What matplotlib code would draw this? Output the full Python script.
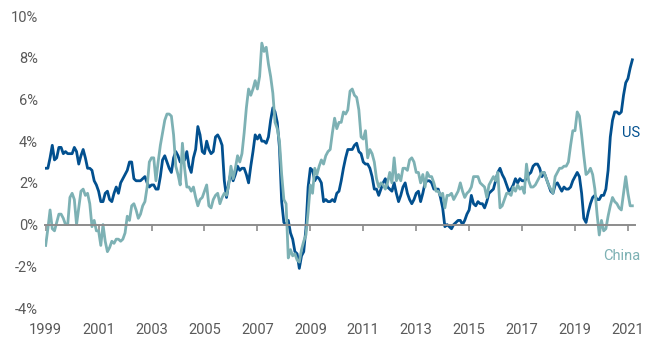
import numpy as np
import matplotlib
matplotlib.use("Agg")
from matplotlib import pyplot as plt

plt.rcParams['font.family'] = ['Roboto', 'DejaVu Sans']

# monthly YoY inflation, Dec 1999 .. Feb 2022
us = [2.7,
	2.7, 3.2, 3.8, 3.1, 3.2, 3.7, 3.7, 3.4, 3.5, 3.4, 3.4, 3.4,
	3.7, 3.5, 2.9, 3.3, 3.6, 3.2, 2.7, 2.7, 2.6, 2.1, 1.9, 1.6,
	1.1, 1.1, 1.5, 1.6, 1.2, 1.1, 1.5, 1.8, 1.5, 2.0, 2.2, 2.4,
	2.6, 3.0, 3.0, 2.2, 2.1, 2.1, 2.1, 2.2, 2.3, 2.0, 1.8, 1.9,
	1.9, 1.7, 1.7, 2.3, 3.1, 3.3, 3.0, 2.7, 2.5, 3.2, 3.5, 3.3,
	3.0, 3.0, 3.1, 3.5, 2.8, 2.5, 3.2, 3.6, 4.7, 4.3, 3.5, 3.4,
	4.0, 3.6, 3.4, 3.5, 4.2, 4.3, 4.1, 3.8, 2.1, 1.3, 2.0, 2.5,
	2.1, 2.4, 2.8, 2.6, 2.7, 2.7, 2.4, 2.0, 2.8, 3.5, 4.3, 4.1,
	4.3, 4.0, 4.0, 3.9, 4.2, 5.0, 5.6, 5.4, 4.9, 3.7, 1.1, 0.1,
	0.0, 0.2, -0.4, -0.7, -1.3, -1.4, -2.1, -1.5, -1.3, -0.2, 1.8, 2.7,
	2.6, 2.1, 2.3, 2.2, 2.0, 1.1, 1.2, 1.1, 1.1, 1.2, 1.1, 1.5,
	1.6, 2.1, 2.7, 3.2, 3.6, 3.6, 3.6, 3.8, 3.9, 3.5, 3.4, 3.0,
	2.9, 2.9, 2.7, 2.3, 1.7, 1.7, 1.4, 1.7, 2.0, 2.2, 1.8, 1.7,
	1.6, 2.0, 1.5, 1.1, 1.4, 1.8, 2.0, 1.5, 1.2, 1.0, 1.2, 1.5,
	1.6, 1.1, 1.5, 2.0, 2.1, 2.1, 2.0, 1.7, 1.7, 1.7, 1.3, 0.8,
	-0.1, 0.0, -0.1, -0.2, 0.0, 0.1, 0.2, 0.2, 0.0, 0.2, 0.5, 0.7,
	1.4, 1.0, 0.9, 1.1, 1.0, 1.0, 0.8, 1.1, 1.5, 1.6, 1.7, 2.1,
	2.5, 2.7, 2.4, 2.2, 1.9, 1.6, 1.7, 1.9, 2.2, 2.0, 2.2, 2.1,
	2.1, 2.2, 2.4, 2.5, 2.8, 2.9, 2.9, 2.7, 2.3, 2.5, 2.2, 1.9,
	1.6, 1.5, 1.9, 2.0, 1.8, 1.6, 1.8, 1.7, 1.7, 1.8, 2.1, 2.3,
	2.5, 2.3, 1.5, 0.3, 0.1, 0.6, 1.0, 1.3, 1.4, 1.2, 1.2, 1.4,
	1.4, 1.7, 2.6, 4.2, 5.0, 5.4, 5.4, 5.3, 5.4, 6.2, 6.8, 7.0,
	7.5, 7.9]

china = [-1.0,
	-0.2, 0.7, -0.2, -0.3, 0.1, 0.5, 0.5, 0.3, 0.0, 0.0, 1.3, 1.5,
	1.2, 0.0, 0.8, 1.6, 1.7, 1.4, 1.5, 1.0, -0.1, 0.2, -0.3, -0.3,
	-1.0, 0.0, -0.8, -1.3, -1.1, -0.8, -0.9, -0.7, -0.7, -0.8, -0.7, -0.4,
	0.4, 0.2, 0.9, 1.0, 0.7, 0.3, 0.5, 0.9, 1.1, 1.8, 3.0, 3.2,
	3.2, 2.1, 3.0, 3.8, 4.4, 5.0, 5.3, 5.3, 5.2, 4.3, 2.8, 2.4,
	1.9, 3.9, 2.7, 1.8, 1.8, 1.6, 1.8, 1.3, 0.9, 1.2, 1.3, 1.6,
	1.9, 0.9, 0.8, 1.2, 1.4, 1.5, 1.0, 1.3, 1.5, 1.4, 1.9, 2.8,
	2.2, 2.7, 3.3, 3.0, 3.4, 4.4, 5.6, 6.5, 6.2, 6.5, 6.9, 6.5,
	7.1, 8.7, 8.3, 8.5, 7.7, 7.1, 6.3, 4.9, 4.6, 4.0, 2.4, 1.2,
	1.0, -1.6, -1.2, -1.5, -1.4, -1.7, -1.8, -1.2, -0.8, -0.5, 0.6, 1.9,
	1.5, 2.7, 2.4, 2.8, 3.1, 2.9, 3.3, 3.5, 3.6, 4.4, 5.1, 4.6,
	4.9, 4.9, 5.4, 5.3, 5.5, 6.4, 6.5, 6.2, 6.1, 5.5, 4.2, 4.1,
	4.5, 3.2, 3.6, 3.4, 3.0, 2.2, 1.8, 2.0, 1.9, 1.7, 2.0, 2.5,
	2.0, 3.2, 2.1, 2.4, 2.1, 2.7, 2.7, 2.6, 3.1, 3.2, 3.0, 2.5,
	2.5, 2.0, 2.4, 1.8, 2.5, 2.3, 2.3, 2.0, 1.6, 1.6, 1.4, 1.5,
	0.8, 1.4, 1.4, 1.5, 1.2, 1.4, 1.6, 2.0, 1.6, 1.3, 1.5, 1.6,
	1.8, 2.3, 2.3, 2.3, 2.0, 1.9, 1.8, 1.3, 1.9, 2.1, 2.3, 2.1,
	2.5, 0.8, 0.9, 1.2, 1.5, 1.5, 1.4, 1.8, 1.6, 1.9, 1.7, 1.8,
	1.5, 2.9, 2.1, 1.8, 1.8, 1.9, 2.1, 2.3, 2.5, 2.5, 2.2, 1.9,
	1.7, 1.5, 2.3, 2.5, 2.7, 2.7, 2.8, 2.8, 3.0, 3.8, 4.5, 4.5,
	5.4, 5.2, 4.3, 3.3, 2.4, 2.5, 2.7, 2.4, 1.7, 0.5, -0.5, 0.2,
	-0.3, -0.2, 0.4, 0.9, 1.3, 1.1, 1.0, 0.8, 0.7, 1.5, 2.3, 1.5,
	0.9, 0.9]

year_labels = ['1999', '2001', '2003', '2005', '2007', '2009', '2011',
	'2013', '2015', '2017', '2019', '2021']
y_ticks = [-4, -2, 0, 2, 4, 6, 8, 10]

US_COL = '#02508f'
CN_COL = '#7db1b4'
GREY = '#5a5a5a'

x = np.arange(len(us))
tick_pos = np.arange(len(year_labels)) * 24

fig = plt.figure(figsize=(6.5, 3.42), dpi=100)
ax = fig.add_axes([45/650, 34/342, 590/650, 292/342])

ax.plot(x, us, color=US_COL, lw=2.0, solid_joinstyle='round')
ax.plot(x, china, color=CN_COL, lw=2.0, solid_joinstyle='round')

ax.set_xlim(-0.3, 267.2)
ax.set_ylim(-4, 10)

for s in ['top', 'right', 'left']:
	ax.spines[s].set_visible(False)
ax.spines['bottom'].set_position(('data', 0))
ax.spines['bottom'].set_color('#8c8c8c')
ax.spines['bottom'].set_linewidth(1.4)

ax.set_xticks(tick_pos)
ax.tick_params(axis='x', direction='out', length=4, width=1.2, color='#8c8c8c',
	labelbottom=False)
ax.set_yticks(y_ticks)
ax.set_yticklabels([f'{v}%' for v in y_ticks])
ax.tick_params(axis='y', length=0, pad=5, labelsize=10.5, labelcolor=GREY)

sec = ax.secondary_xaxis(0)
sec.set_xticks(tick_pos)
sec.set_xticklabels(year_labels)
sec.spines['bottom'].set_visible(False)
sec.tick_params(length=0, pad=11, labelsize=10.5, labelcolor=GREY)

ax.text(269.5, 4.4, 'US', color=US_COL, fontsize=10.5, ha='right', va='center')
ax.text(269.5, -1.5, 'China', color=CN_COL, fontsize=10.5, ha='right', va='center')

fig.savefig('out.png', dpi=100)
